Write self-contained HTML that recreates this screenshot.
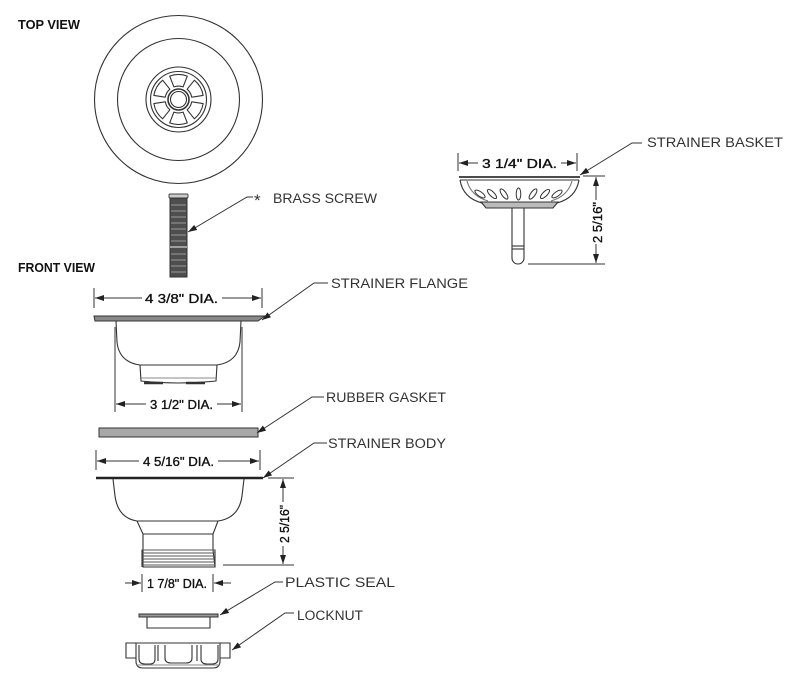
<!DOCTYPE html>
<html><head><meta charset="utf-8"><style>
html,body{margin:0;padding:0;background:#fff;}
svg{display:block;}
text{font-family:"Liberation Sans",sans-serif;}
.lbl{font-size:13.5px;fill:#333;}
.dim{font-size:13px;fill:#111;stroke:#111;stroke-width:0.35px;}
.ttl{font-size:12.5px;font-weight:bold;fill:#111;}
</style></head><body>
<svg width="800" height="684" viewBox="0 0 800 684" xmlns="http://www.w3.org/2000/svg">
<defs>
<marker id="a" markerUnits="userSpaceOnUse" markerWidth="9" markerHeight="6" refX="9" refY="3" orient="auto-start-reverse">
<path d="M0,0 L9,3 L0,6 z" fill="#222"/>
</marker>
</defs>
<rect width="800" height="684" fill="#fff"/>

<!-- titles -->
<text class="ttl" x="18" y="29" textLength="62" lengthAdjust="spacingAndGlyphs">TOP VIEW</text>
<text class="ttl" x="18" y="272" textLength="77" lengthAdjust="spacingAndGlyphs">FRONT VIEW</text>

<!-- TOP VIEW -->
<g fill="none" stroke="#333" stroke-width="1.1">
<circle cx="178.5" cy="99.5" r="84"/>
<circle cx="178.5" cy="99.5" r="61"/>
<circle cx="178.5" cy="99.5" r="32.5"/>
<circle cx="178.5" cy="99.5" r="28"/>
<circle cx="178.5" cy="99.5" r="10.5" stroke-width="1.6"/>
<circle cx="178.5" cy="99.5" r="8"/>
<g transform="translate(178.5,99.5)" stroke-linejoin="round">
<path d="M-8.8,-23.4 A25,25 0 0 1 8.8,-23.4 L4.6,-12.6 A13.4,13.4 0 0 0 -4.6,-12.6 Z"/>
<path d="M-8.8,-23.4 A25,25 0 0 1 8.8,-23.4 L4.6,-12.6 A13.4,13.4 0 0 0 -4.6,-12.6 Z" transform="rotate(60)"/>
<path d="M-8.8,-23.4 A25,25 0 0 1 8.8,-23.4 L4.6,-12.6 A13.4,13.4 0 0 0 -4.6,-12.6 Z" transform="rotate(120)"/>
<path d="M-8.8,-23.4 A25,25 0 0 1 8.8,-23.4 L4.6,-12.6 A13.4,13.4 0 0 0 -4.6,-12.6 Z" transform="rotate(180)"/>
<path d="M-8.8,-23.4 A25,25 0 0 1 8.8,-23.4 L4.6,-12.6 A13.4,13.4 0 0 0 -4.6,-12.6 Z" transform="rotate(240)"/>
<path d="M-8.8,-23.4 A25,25 0 0 1 8.8,-23.4 L4.6,-12.6 A13.4,13.4 0 0 0 -4.6,-12.6 Z" transform="rotate(300)"/>
</g>
</g>

<!-- BRASS SCREW -->
<rect x="169" y="194" width="19" height="4" rx="1" fill="#ccc" stroke="#444" stroke-width="1"/>
<rect x="170" y="198" width="17" height="79" fill="#4e4e4e" stroke="#333" stroke-width="1"/>
<g stroke="#999" stroke-width="1">
<line x1="171" y1="205" x2="186" y2="205"/>
<line x1="171" y1="211" x2="186" y2="211"/>
<line x1="171" y1="217" x2="186" y2="217"/>
<line x1="171" y1="223" x2="186" y2="223"/>
<line x1="171" y1="229" x2="186" y2="229"/>
<line x1="171" y1="235" x2="186" y2="235"/>
<line x1="171" y1="241" x2="186" y2="241"/>
<line x1="170" y1="247" x2="187" y2="247" stroke="#bbb" stroke-width="1.5"/>
<line x1="171" y1="254" x2="186" y2="254"/>
<line x1="171" y1="260" x2="186" y2="260"/>
<line x1="171" y1="266" x2="186" y2="266"/>
<line x1="171" y1="272" x2="186" y2="272"/>
</g>
<polyline points="188,232 247,197 253,197" fill="none" stroke="#333" stroke-width="1" marker-start="url(#a)"/>
<text x="254" y="206" style="font-size:17px;fill:#333">*</text>
<text class="lbl" x="273" y="203" textLength="104" lengthAdjust="spacingAndGlyphs">BRASS SCREW</text>

<!-- STRAINER FLANGE -->
<g stroke="#333" stroke-width="1" fill="none">
<line x1="94" y1="288" x2="94" y2="308"/>
<line x1="262" y1="288" x2="262" y2="308"/>
<line x1="142" y1="298" x2="95" y2="298" marker-end="url(#a)"/>
<line x1="222" y1="298" x2="261" y2="298" marker-end="url(#a)"/>
</g>
<text class="dim" x="145" y="303" textLength="73" lengthAdjust="spacingAndGlyphs">4 3/8" DIA.</text>
<polygon points="94,316 265,316 258,321 95,321" fill="#8a8a8a" stroke="#333" stroke-width="1"/>
<g stroke="#333" stroke-width="1.1" fill="none">
<path d="M116,321 L117,342 Q119,362 140,365 M241,321 L240,342 Q238,362 217,365"/>
<line x1="140" y1="365" x2="217" y2="365"/>
<path d="M140,365 L141,381 Q178,385 216,381 L217,365"/>
<line x1="141" y1="378" x2="216" y2="378" stroke="#888"/>
</g>
<g stroke="#333" stroke-width="2.5">
<line x1="144" y1="383" x2="163" y2="383"/>
<line x1="186" y1="383" x2="205" y2="383"/>
</g>
<polyline points="262,320 314,283 328,283" fill="none" stroke="#333" stroke-width="1" marker-start="url(#a)"/>
<text class="lbl" x="331" y="288" textLength="137" lengthAdjust="spacingAndGlyphs">STRAINER FLANGE</text>

<!-- 3 1/2 dim -->
<g stroke="#333" stroke-width="1" fill="none">
<line x1="115" y1="327" x2="115" y2="412"/>
<line x1="242" y1="327" x2="242" y2="412"/>
<line x1="146" y1="404" x2="116" y2="404" marker-end="url(#a)"/>
<line x1="217" y1="404" x2="241" y2="404" marker-end="url(#a)"/>
</g>
<text class="dim" x="150" y="409" textLength="63" lengthAdjust="spacingAndGlyphs">3 1/2" DIA.</text>

<!-- RUBBER GASKET -->
<rect x="99" y="428" width="159" height="9" fill="#a8a8a8" stroke="#333" stroke-width="1"/>
<polyline points="257,433 312,397 324,397" fill="none" stroke="#333" stroke-width="1" marker-start="url(#a)"/>
<text class="lbl" x="326" y="402" textLength="120" lengthAdjust="spacingAndGlyphs">RUBBER GASKET</text>

<!-- STRAINER BODY -->
<g stroke="#333" stroke-width="1" fill="none">
<line x1="96" y1="450" x2="96" y2="470"/>
<line x1="260" y1="450" x2="260" y2="470"/>
<line x1="139" y1="461" x2="97" y2="461" marker-end="url(#a)"/>
<line x1="218" y1="461" x2="259" y2="461" marker-end="url(#a)"/>
</g>
<text class="dim" x="143" y="466" textLength="71" lengthAdjust="spacingAndGlyphs">4 5/16" DIA.</text>
<line x1="96" y1="478" x2="263" y2="478" stroke="#222" stroke-width="2.6"/>
<g stroke="#333" stroke-width="1.1" fill="none">
<path d="M113,479 L115,496 Q118,518 137,521 L143,534 L143,567 L215,567 L213,550 L213,534 L218,521 Q239,518 242,496 L244,479"/>
<line x1="137" y1="521" x2="218" y2="521"/>
<line x1="143" y1="534" x2="213" y2="534"/>
<path d="M143,550 L142,550 L142,567 M213,550 L215,550 L215,567"/>
</g>
<g stroke="#555" stroke-width="1.1">
<line x1="142" y1="550" x2="215" y2="550"/>
<line x1="142" y1="553" x2="215" y2="553"/>
<line x1="142" y1="556" x2="215" y2="556"/>
<line x1="142" y1="559" x2="215" y2="559"/>
<line x1="142" y1="562" x2="215" y2="562"/>
<line x1="142" y1="565" x2="215" y2="565"/>
</g>
<polyline points="263,478 314,443 327,443" fill="none" stroke="#333" stroke-width="1" marker-start="url(#a)"/>
<text class="lbl" x="328" y="448" textLength="118" lengthAdjust="spacingAndGlyphs">STRAINER BODY</text>

<!-- body height dim -->
<g stroke="#333" stroke-width="1" fill="none">
<line x1="268" y1="478" x2="294" y2="478"/>
<line x1="223" y1="565" x2="294" y2="565"/>
<line x1="283" y1="502" x2="283" y2="479" marker-end="url(#a)"/>
<line x1="283" y1="546" x2="283" y2="564" marker-end="url(#a)"/>
</g>
<text class="dim" transform="translate(289,543) rotate(-90)" x="0" y="0" textLength="38" lengthAdjust="spacingAndGlyphs">2 5/16"</text>

<!-- 1 7/8 dim -->
<g stroke="#333" stroke-width="1" fill="none">
<line x1="142" y1="574" x2="142" y2="592"/>
<line x1="213" y1="574" x2="213" y2="592"/>
<line x1="125" y1="583" x2="141" y2="583" marker-end="url(#a)"/>
<line x1="231" y1="583" x2="214" y2="583" marker-end="url(#a)"/>
</g>
<text class="dim" x="147" y="588" textLength="60" lengthAdjust="spacingAndGlyphs">1 7/8" DIA.</text>

<!-- PLASTIC SEAL -->
<rect x="139" y="614" width="79" height="3" fill="#999" stroke="#333" stroke-width="1"/>
<path d="M147,617 L147,628 L210,628 L210,617" fill="none" stroke="#333" stroke-width="1.1"/>
<polyline points="220,615 275,582 283,582" fill="none" stroke="#333" stroke-width="1" marker-start="url(#a)"/>
<text class="lbl" x="285" y="587" textLength="110" lengthAdjust="spacingAndGlyphs">PLASTIC SEAL</text>

<!-- LOCKNUT -->
<g stroke="#333" stroke-width="1.1" fill="none">
<path d="M136,643 L126,643 L126,658 L136,658"/>
<path d="M220,643 L230,643 L230,658 L220,658"/>
<path d="M136,643 L220,643 L220,661 Q220,668 213,668 L143,668 Q136,668 136,661 Z"/>
<path d="M139,645 L139,659 Q139,664 145,664 L150,664 Q155,664 155,659 L155,645"/>
<line x1="158" y1="645" x2="158" y2="661"/>
<path d="M165,645 L165,658 Q165,663 171,663 L186,663 Q192,663 192,658 L192,645"/>
<line x1="197" y1="645" x2="197" y2="661"/>
<path d="M201,645 L201,659 Q201,664 207,664 L212,664 Q218,664 218,659 L218,645"/>
<line x1="136" y1="665" x2="220" y2="665" stroke="#888"/>
</g>
<polyline points="232,650 285,613 294,613" fill="none" stroke="#333" stroke-width="1" marker-start="url(#a)"/>
<text class="lbl" x="297" y="620" textLength="66" lengthAdjust="spacingAndGlyphs">LOCKNUT</text>

<!-- STRAINER BASKET -->
<g stroke="#333" stroke-width="1" fill="none">
<line x1="458" y1="153" x2="458" y2="171"/>
<line x1="577" y1="153" x2="577" y2="171"/>
<line x1="478" y1="163" x2="459" y2="163" marker-end="url(#a)"/>
<line x1="561" y1="163" x2="576" y2="163" marker-end="url(#a)"/>
</g>
<text class="dim" x="482" y="168" textLength="75" lengthAdjust="spacingAndGlyphs">3 1/4" DIA.</text>
<g stroke="#333" stroke-width="1.1" fill="none">
<line x1="459" y1="177" x2="580" y2="177" stroke-width="1.8"/>
<line x1="460" y1="180" x2="579" y2="180"/>
<path d="M460,180 Q463,198 482,203 M579,180 Q576,198 557,203"/>
<path d="M467,181 Q471,196 488,201 M572,181 Q568,196 551,201" stroke="#777"/>
<polygon points="481,202 558,202 553,208 486,208" fill="#bbb"/>
<g stroke-width="1">
<ellipse cx="480" cy="194" rx="2.3" ry="6" transform="rotate(-55 480 194)"/>
<ellipse cx="492" cy="194" rx="2.3" ry="6" transform="rotate(-45 492 194)"/>
<ellipse cx="504" cy="194" rx="2.3" ry="6" transform="rotate(-35 504 194)"/>
<ellipse cx="518.5" cy="194" rx="2.3" ry="6"/>
<ellipse cx="533" cy="194" rx="2.3" ry="6" transform="rotate(35 533 194)"/>
<ellipse cx="545" cy="194" rx="2.3" ry="6" transform="rotate(45 545 194)"/>
<ellipse cx="557" cy="194" rx="2.3" ry="6" transform="rotate(55 557 194)"/>
</g>
<path d="M512,208 L512,258 A6,6 0 0 0 524,258 L524,208"/>
<line x1="512" y1="246" x2="524" y2="246"/>
<line x1="512" y1="249" x2="524" y2="249"/>
</g>
<g stroke="#333" stroke-width="1" fill="none">
<line x1="583" y1="176" x2="605" y2="176"/>
<line x1="528" y1="264" x2="605" y2="264"/>
<line x1="596" y1="200" x2="596" y2="177" marker-end="url(#a)"/>
<line x1="596" y1="244" x2="596" y2="263" marker-end="url(#a)"/>
</g>
<text class="dim" transform="translate(602,243) rotate(-90)" x="0" y="0" textLength="41" lengthAdjust="spacingAndGlyphs">2 5/16"</text>
<polyline points="580,175 632,143 642,143" fill="none" stroke="#333" stroke-width="1" marker-start="url(#a)"/>
<text class="lbl" x="647" y="147" textLength="136" lengthAdjust="spacingAndGlyphs">STRAINER BASKET</text>
</svg>
</body></html>
